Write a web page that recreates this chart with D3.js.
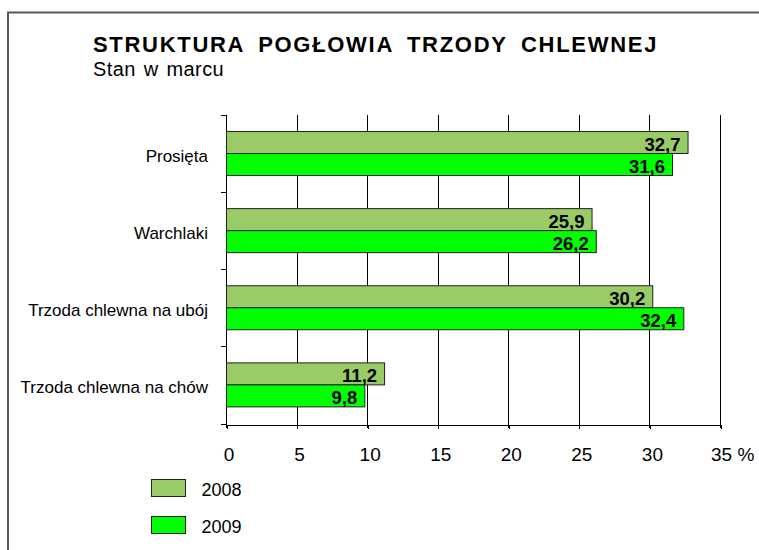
<!DOCTYPE html>
<html>
<head>
<meta charset="utf-8">
<script src="https://cdn.jsdelivr.net/npm/d3@7"></script>
<style>
  body { margin: 0; background: #fff; }
  text { font-family: "Liberation Sans", Arial, sans-serif; fill: #000; }
</style>
</head>
<body>
<svg id="chart" width="759" height="550"></svg>
<script>
// data
const categories = ["Prosięta", "Warchlaki", "Trzoda chlewna na ubój", "Trzoda chlewna na chów"];
const seriesNames = ["2008", "2009"];
const values2008 = [32.7, 25.9, 30.2, 11.2];
const values2009 = [31.6, 26.2, 32.4, 9.8];
const xTicks = [0, 5, 10, 15, 20, 25, 30, 35];

const colors = ["#99cc66", "#00ff00"];
const svg = d3.select("#chart");

// outer frame (only left and top edges are visible)
svg.append("path")
    .attr("d", "M8,550V12.5H759")
    .attr("fill", "none")
    .attr("stroke", "#595959")
    .attr("stroke-width", 2);

// titles
svg.append("text")
    .attr("x", 93).attr("y", 52)
    .attr("font-size", 22).attr("font-weight", "bold")
    .attr("letter-spacing", 1.7)
    .attr("word-spacing", 6)
    .text("STRUKTURA POGŁOWIA TRZODY CHLEWNEJ");
svg.append("text")
    .attr("x", 93).attr("y", 76)
    .attr("font-size", 20)
    .attr("letter-spacing", 0.4)
    .attr("word-spacing", 2)
    .text("Stan w marcu");

const plotTop = 115, plotBottom = 423.5;
const x = d3.scaleLinear().domain([0, 35]).range([226, 720]);
const y = d3.scaleBand().domain(categories).range([plotTop, plotBottom]).padding(0);
const ySub = d3.scaleBand().domain(seriesNames).range([16.5, 60.5]).padding(0);

const rows = categories.map((c, i) => ({
    cat: c,
    vals: [
        {name: seriesNames[0], v: values2008[i], color: colors[0]},
        {name: seriesNames[1], v: values2009[i], color: colors[1]}
    ]
}));

// grid lines
const grid = svg.append("g").attr("shape-rendering", "crispEdges");
grid.selectAll("line.grid")
    .data(xTicks)
    .join("line")
    .attr("class", "grid")
    .attr("x1", d => Math.round(x(d)) + 0.5)
    .attr("x2", d => Math.round(x(d)) + 0.5)
    .attr("y1", plotTop)
    .attr("y2", plotBottom + 4)
    .attr("stroke", "#000");

// category ticks on the left axis
const bounds = [plotTop].concat(categories.map(c => y(c) + y.bandwidth()));
grid.selectAll("line.ytick")
    .data(bounds)
    .join("line")
    .attr("class", "ytick")
    .attr("x1", x(0) - 5)
    .attr("x2", x(0))
    .attr("y1", d => Math.round(d) + 0.5)
    .attr("y2", d => Math.round(d) + 0.5)
    .attr("stroke", "#000");

// x axis
const xAxis = d3.axisBottom(x)
    .tickValues(xTicks)
    .tickSize(4)
    .tickSizeOuter(0)
    .tickFormat(d => d);
const ax = svg.append("g")
    .attr("transform", `translate(0.5,${Math.round(plotBottom) + 0.5})`)
    .call(xAxis);
ax.select(".domain").attr("stroke", "#000").attr("shape-rendering", "crispEdges");
ax.selectAll(".tick line").attr("stroke", "#000").attr("shape-rendering", "crispEdges");
ax.selectAll(".tick text")
    .attr("fill", "#000")
    .attr("font-size", 19)
    .attr("font-family", "Liberation Sans, Arial, sans-serif")
    .attr("y", 36).attr("dy", null).attr("dx", 2);
ax.selectAll(".tick text")
    .filter(d => d === 35)
    .attr("text-anchor", "start")
    .attr("dx", -10)
    .text("35 %");

// bars
const groups = svg.append("g")
    .selectAll("g")
    .data(rows)
    .join("g")
    .attr("transform", d => `translate(0,${y(d.cat)})`);

groups.selectAll("rect")
    .data(d => d.vals)
    .join("rect")
    .attr("x", x(0) + 0.5)
    .attr("y", d => ySub(d.name))
    .attr("width", d => x(d.v) - x(0))
    .attr("height", ySub.bandwidth())
    .attr("fill", d => d.color)
    .attr("stroke", "#222")
    .attr("stroke-width", 1);

const fmt = d3.format(".1f");
groups.selectAll("text")
    .data(d => d.vals)
    .join("text")
    .attr("x", d => x(d.v) - 7)
    .attr("y", d => ySub(d.name) + ySub.bandwidth() - 3)
    .attr("text-anchor", "end")
    .attr("font-size", 18.5)
    .attr("font-weight", "bold")
    .text(d => fmt(d.v).replace(".", ","));

// category labels
svg.append("g")
    .selectAll("text")
    .data(categories)
    .join("text")
    .attr("x", 208)
    .attr("y", d => y(d) + 38.5 + 8)
    .attr("text-anchor", "end")
    .attr("font-size", 17)
    .attr("fill", "#111")
    .text(d => d);

// legend
const legend = svg.append("g")
    .selectAll("g")
    .data(seriesNames)
    .join("g")
    .attr("transform", (d, i) => `translate(151.5,${479.5 + i * 37})`);
legend.append("rect")
    .attr("width", 34)
    .attr("height", 17)
    .attr("fill", (d, i) => colors[i])
    .attr("stroke", "#222");
legend.append("text")
    .attr("x", 50)
    .attr("y", 16)
    .attr("font-size", 18)
    .text(d => d);
</script>
</body>
</html>
